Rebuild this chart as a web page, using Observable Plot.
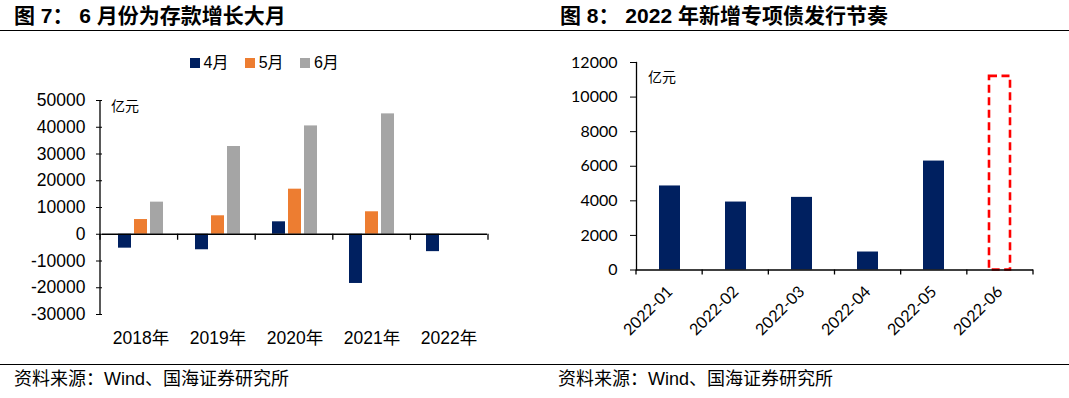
<!DOCTYPE html>
<html><head><meta charset="utf-8">
<script src="https://cdn.jsdelivr.net/npm/d3@7"></script>
<script src="https://cdn.jsdelivr.net/npm/@observablehq/plot@0.6"></script>
<style>
body{margin:0;background:#fff;width:1069px;height:398px;position:relative;overflow:hidden;font-family:"Liberation Sans","Noto Sans CJK SC",sans-serif;color:#000;}
.abs{position:absolute;white-space:nowrap;}
.title{font-size:21px;font-weight:bold;top:4px;line-height:24px;}
.rule{position:absolute;left:0;width:1069px;height:0;border-top:1.5px solid #000;}
.src{font-size:18px;top:369px;line-height:20px;}
.unit{font-size:14px;font-family:"Noto Sans CJK SC";line-height:20px;}
.leg{position:absolute;top:53px;line-height:20px;font-size:16px;display:flex;align-items:center;}
.sw{display:inline-block;width:10px;height:10px;margin-right:3.5px;}
</style></head><body>
<div class="abs title" style="left:14px">图 7： 6 月份为存款增长大月</div>
<div class="abs title" style="left:560px">图 8： 2022 年新增专项债发行节奏</div>
<div class="rule" style="top:30px"></div>
<div id="legend"></div>
<div id="left" class="abs" style="left:0;top:40px"></div>
<div id="right" class="abs" style="left:540px;top:40px"></div>
<div class="abs unit" style="left:111px;top:95px">亿元</div>
<div class="abs unit" style="left:648px;top:66px">亿元</div>
<div class="rule" style="top:364px"></div>
<div class="abs src" style="left:14px">资料来源：Wind、国海证券研究所</div>
<div class="abs src" style="left:558px">资料来源：Wind、国海证券研究所</div>
<script>
// ---- Figure 7 data ----
const years = ["2018年", "2019年", "2020年", "2021年", "2022年"];
const months = ["4月", "5月", "6月"];
const aprDeposits = [-5200, -5800, 4650, -18400, -6500];
const mayDeposits = [5500, 6900, 16850, 8400, null];
const junDeposits = [12000, 32800, 40500, 45000, null];
const monthColors = ["#002060", "#ED7D31", "#A5A5A5"];
const leftTicks = [-30000, -20000, -10000, 0, 10000, 20000, 30000, 40000, 50000];

// ---- Figure 8 data ----
const issueMonths = ["2022-01", "2022-02", "2022-03", "2022-04", "2022-05", "2022-06"];
const issueValues = [4860, 3930, 4200, 1040, 6300, null];
const planMonth = ["2022-06"];
const planValue = [11200];
const rightTicks = [0, 2000, 4000, 6000, 8000, 10000, 12000];

// legend
const legend = document.getElementById("legend");
months.forEach((m, i) => {
  const el = document.createElement("div");
  el.className = "leg";
  el.style.left = (190 + i * 55.2) + "px";
  el.innerHTML = `<span class="sw" style="background:${monthColors[i]}"></span>${m}`;
  legend.appendChild(el);
});

const series = [aprDeposits, mayDeposits, junDeposits];
const deposits = years.flatMap((y, i) => months.map((m, j) => ({year: y, month: m, value: series[j][i]})))
  .filter(d => d.value != null);

const leftPlot = Plot.plot({
  width: 535, height: 320,
  marginTop: 60, marginBottom: 46, marginLeft: 100, marginRight: 47,
  style: {fontFamily: '"Liberation Sans","Noto Sans CJK SC",sans-serif', fontSize: "17.5px", color: "#000", background: "transparent", overflow: "visible"},
  fx: {domain: years, padding: 0, axis: "bottom", tickSize: 0, tickPadding: 17, label: null},
  x: {domain: months, paddingInner: 0.2, paddingOuter: 0.9, axis: null},
  y: {domain: [-30000, 50000], ticks: leftTicks, tickSize: 6, tickPadding: 11, tickFormat: d => String(d), label: null},
  color: {domain: months, range: monthColors},
  marks: [
    Plot.barY(deposits, {fx: "year", x: "month", y: "value", fill: "month"}),
    Plot.ruleY([0], {stroke: "#000", strokeWidth: 1.3})
  ]
});
document.getElementById("left").appendChild(leftPlot);

function boundaryTicks(svg, desc, y0, len) {
  const b = d3.scaleBand(desc.domain, desc.range);
  const xs = desc.domain.map(d => b(d)).concat([desc.range[1]]);
  d3.select(svg).append("g").attr("stroke", "#000").attr("stroke-width", 1.3)
    .selectAll("line").data(xs).join("line")
    .attr("x1", d => d).attr("x2", d => d).attr("y1", y0).attr("y2", y0 + len);
}
{
  const fx = leftPlot.scale("fx"), ys = leftPlot.scale("y");
  const y = d3.scaleLinear(ys.domain, ys.range);
  boundaryTicks(leftPlot, fx, y(0), 6);
  d3.select(leftPlot).append("line").attr("stroke", "#000").attr("stroke-width", 1.3)
    .attr("x1", fx.range[0]).attr("x2", fx.range[0]).attr("y1", y(50000)).attr("y2", y(-30000));
}

const issued = issueMonths.map((m, i) => ({month: m, value: issueValues[i]})).filter(d => d.value != null);
const planned = planMonth.map((m, i) => ({month: m, value: planValue[i]}));

const rightPlot = Plot.plot({
  width: 529, height: 315,
  marginTop: 22, marginBottom: 85.5, marginLeft: 96, marginRight: 36,
  style: {fontFamily: 'Lato,"Noto Sans",sans-serif', fontSize: "16px", color: "#000", background: "transparent", overflow: "visible"},
  x: {domain: issueMonths, paddingInner: 0.687, paddingOuter: 0.3435, tickSize: 0, tickRotate: -45, tickPadding: 19, label: null},
  y: {domain: [0, 12000], ticks: rightTicks, tickSize: 6, tickPadding: 13, tickFormat: d => String(d), label: null},
  marks: [
    Plot.barY(issued, {x: "month", y: "value", fill: "#002060"}),
    Plot.barY(planned, {x: "month", y: "value", fill: "none", stroke: "#FF0000", strokeWidth: 2.6, strokeDasharray: "8,4.5"}),
    Plot.ruleY([0], {stroke: "#000", strokeWidth: 1.3}),
    Plot.frame({anchor: "left", stroke: "#000", strokeWidth: 1.3})
  ]
});
document.getElementById("right").appendChild(rightPlot);
{
  const xs = rightPlot.scale("x"), ys = rightPlot.scale("y");
  const y = d3.scaleLinear(ys.domain, ys.range);
  boundaryTicks(rightPlot, {domain: xs.domain, range: xs.range}, y(0), 5);
}
</script>
</body></html>
